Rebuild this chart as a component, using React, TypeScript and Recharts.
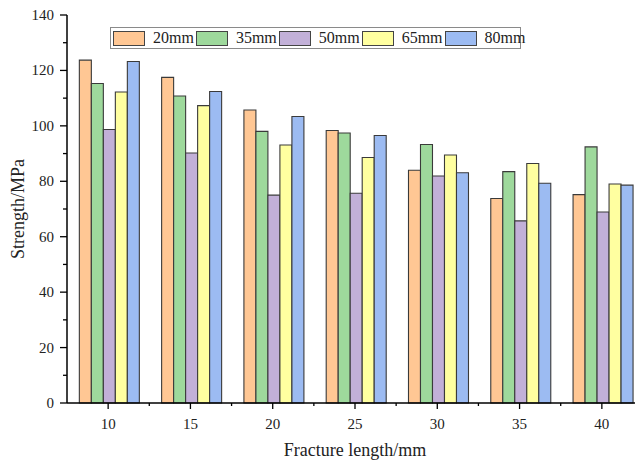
import React from "react";
import { BarChart, Bar, XAxis, YAxis } from "recharts";

const lengths = [10, 15, 20, 25, 30, 35, 40];
const s20 = [123.7, 117.5, 105.7, 98.3, 84.0, 73.8, 75.2];
const s35 = [115.3, 110.8, 98.0, 97.4, 93.3, 83.5, 92.4];
const s50 = [98.7, 90.2, 75.0, 75.7, 81.9, 65.7, 68.9];
const s65 = [112.2, 107.3, 93.1, 88.6, 89.5, 86.4, 79.0];
const s80 = [123.2, 112.4, 103.4, 96.5, 83.1, 79.3, 78.6];
const seriesNames = ["20mm", "35mm", "50mm", "65mm", "80mm"];
const seriesColors = ["#FFC794", "#9ED99C", "#C2B0D8", "#FFFFA0", "#9CBBF2"];
const yTicks = [0, 10, 20, 30, 40, 50, 60, 70, 80, 90, 100, 110, 120, 130, 140];

const data = lengths.map((len, i) => ({
  length: len,
  "20mm": s20[i],
  "35mm": s35[i],
  "50mm": s50[i],
  "65mm": s65[i],
  "80mm": s80[i],
}));

const FONT = "'Liberation Serif', 'Times New Roman', serif";
const CHART_W = 660;
const PLOT_LEFT = 67;
const PLOT_RIGHT = 643;
const BAND = (PLOT_RIGHT - PLOT_LEFT) / lengths.length;

const YTick = (props: any) => {
  const { x, y, payload } = props;
  const major = payload.value % 20 === 0;
  return (
    <g>
      <line x1={x} x2={x - (major ? 7 : 4)} y1={y} y2={y} stroke="#000" strokeWidth={1.3} />
      {major && (
        <text x={x - 13} y={y} dy={5} textAnchor="end" fontSize={15} fontFamily={FONT} fill="#222">
          {payload.value}
        </text>
      )}
    </g>
  );
};

const XTick = (props: any) => {
  const { x, y, payload } = props;
  return (
    <g>
      <line x1={x} x2={x} y1={y} y2={y + 6} stroke="#000" strokeWidth={1.3} />
      <line x1={x + BAND / 2} x2={x + BAND / 2} y1={y} y2={y + 3} stroke="#000" strokeWidth={1.3} />
      <text x={x} y={y + 26} textAnchor="middle" fontSize={15} fontFamily={FONT} fill="#222">
        {payload.value}
      </text>
    </g>
  );
};

const LegendBox = () => (
  <div
    style={{
      position: "absolute",
      left: 110,
      top: 27,
      width: 409,
      height: 20,
      border: "1px solid #8a8a8a",
      background: "#fff",
      display: "flex",
      alignItems: "center",
      fontFamily: FONT,
      fontSize: 16,
      color: "#222",
    }}
  >
    {seriesNames.map((name, i) => (
      <div key={name} style={{ display: "flex", alignItems: "center", width: 83 }}>
        <div
          style={{
            marginLeft: 2,
            width: 32,
            height: 15,
            background: seriesColors[i],
            border: "1px solid #444",
            boxSizing: "border-box",
          }}
        />
        <span style={{ marginLeft: 8 }}>{name}</span>
      </div>
    ))}
  </div>
);

export default function App() {
  return (
    <div style={{ position: "relative", width: 635, height: 462, overflow: "hidden", background: "#fff" }}>
      <style>{"html, body { margin: 0; padding: 0; overflow: hidden; }"}</style>
      <BarChart
        width={CHART_W}
        height={462}
        data={data}
        margin={{ top: 15, right: CHART_W - PLOT_RIGHT, left: 7, bottom: 0 }}
        barCategoryGap="15%"
        barGap={0}
      >
        <XAxis
          dataKey="length"
          height={59}
          tickSize={0}
          tickMargin={0}
          tick={<XTick />}
          axisLine={{ stroke: "#000", strokeWidth: 1.5 }}
          tickLine={false}
          interval={0}
          label={{
            value: "Fracture length/mm",
            position: "insideBottom",
            offset: 6,
            style: { fontFamily: FONT, fontSize: 18, fill: "#222" },
          }}
        />
        <YAxis
          width={60}
          domain={[0, 140]}
          ticks={yTicks}
          interval={0}
          tickSize={0}
          tickMargin={0}
          tick={<YTick />}
          axisLine={{ stroke: "#000", strokeWidth: 1.5 }}
          tickLine={false}
          label={{
            value: "Strength/MPa",
            angle: -90,
            position: "insideLeft",
            offset: 11,
            style: { fontFamily: FONT, fontSize: 18, fill: "#222", textAnchor: "middle" },
          }}
        />
        {seriesNames.map((name, i) => (
          <Bar
            key={name}
            dataKey={name}
            fill={seriesColors[i]}
            stroke="#3a3a3a"
            strokeWidth={1.1}
            isAnimationActive={false}
          />
        ))}
      </BarChart>
      <LegendBox />
    </div>
  );
}
